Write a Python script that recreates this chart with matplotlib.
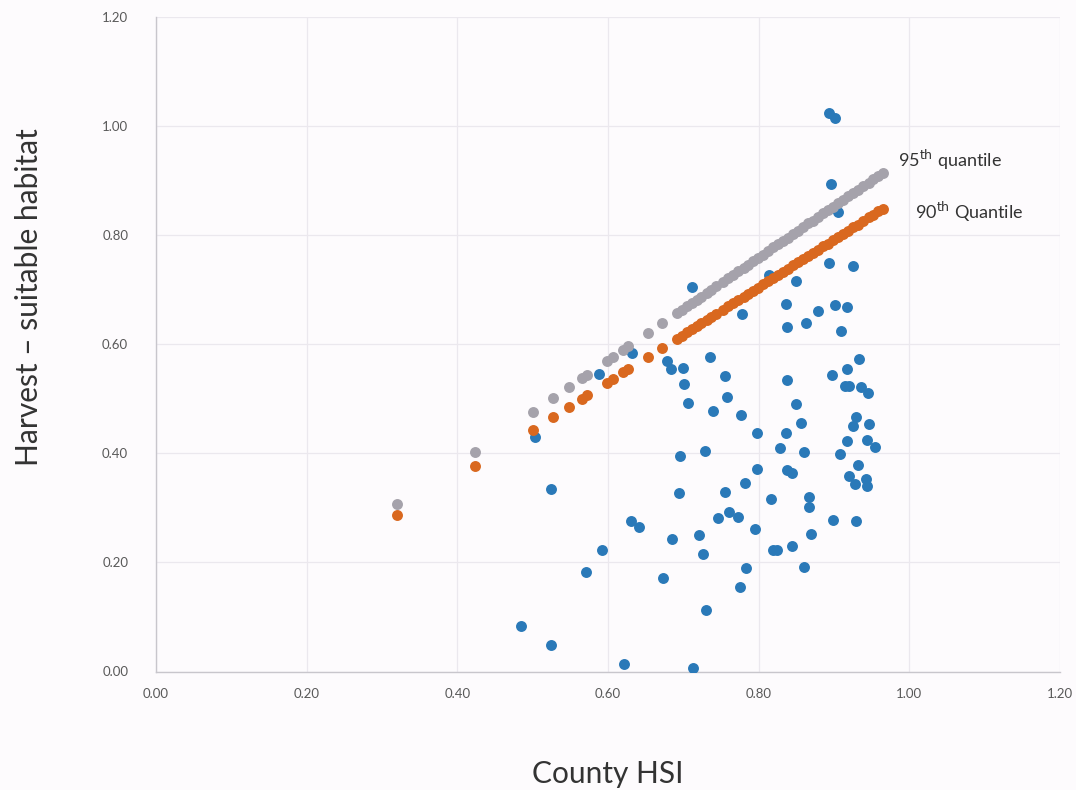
import numpy as np
import matplotlib.pyplot as plt

# county HSI vs harvest-suitable habitat, one dot per county
county_hsi = [0.893, 0.901, 0.896, 0.905, 0.711, 0.814, 0.893, 0.925, 0.850, 0.836,
              0.879, 0.901, 0.917, 0.778, 0.838, 0.863, 0.909, 0.933, 0.917, 0.897,
              0.915, 0.920, 0.936, 0.945, 0.838, 0.850, 0.856, 0.836, 0.929, 0.925,
              0.946, 0.917, 0.944, 0.954, 0.828, 0.860, 0.908, 0.932, 0.838, 0.632,
              0.588, 0.678, 0.684, 0.700, 0.735, 0.755, 0.701, 0.758, 0.706, 0.739,
              0.777, 0.798, 0.696, 0.729, 0.798, 0.782, 0.694, 0.755, 0.816, 0.746,
              0.761, 0.773, 0.685, 0.721, 0.795, 0.726, 0.819, 0.824, 0.783, 0.673,
              0.775, 0.730, 0.713, 0.844, 0.920, 0.928, 0.942, 0.944, 0.867, 0.867,
              0.899, 0.929, 0.869, 0.844, 0.860, 0.503, 0.524, 0.631, 0.641, 0.592,
              0.571, 0.484, 0.524, 0.621]
harvest = [1.024, 1.014, 0.893, 0.842, 0.705, 0.727, 0.749, 0.743, 0.716, 0.674,
           0.661, 0.672, 0.668, 0.655, 0.631, 0.639, 0.624, 0.573, 0.555, 0.544,
           0.523, 0.523, 0.522, 0.511, 0.534, 0.490, 0.456, 0.437, 0.467, 0.450,
           0.454, 0.423, 0.424, 0.412, 0.410, 0.402, 0.399, 0.379, 0.370, 0.584,
           0.545, 0.569, 0.555, 0.556, 0.577, 0.542, 0.527, 0.503, 0.492, 0.478,
           0.470, 0.437, 0.395, 0.404, 0.371, 0.346, 0.327, 0.329, 0.316, 0.282,
           0.293, 0.283, 0.243, 0.250, 0.261, 0.216, 0.223, 0.223, 0.190, 0.172,
           0.155, 0.113, 0.007, 0.364, 0.359, 0.344, 0.353, 0.340, 0.320, 0.302,
           0.278, 0.276, 0.252, 0.230, 0.192, 0.430, 0.335, 0.276, 0.265, 0.223,
           0.183, 0.084, 0.049, 0.014]

# quantile regression predictions
q_hsi = [0.320, 0.423, 0.500, 0.527, 0.548, 0.565, 0.572, 0.599, 0.607, 0.620,
         0.627, 0.653, 0.672, 0.692, 0.698, 0.705, 0.711, 0.718, 0.724, 0.731,
         0.737, 0.744, 0.753, 0.760, 0.766, 0.773, 0.780, 0.786, 0.793, 0.799,
         0.806, 0.813, 0.819, 0.826, 0.832, 0.839, 0.846, 0.852, 0.859, 0.866,
         0.872, 0.879, 0.886, 0.892, 0.899, 0.906, 0.912, 0.919, 0.926, 0.932,
         0.939, 0.946, 0.952, 0.959, 0.965]
q95 = [0.306, 0.403, 0.476, 0.501, 0.521, 0.537, 0.544, 0.569, 0.577, 0.589,
       0.596, 0.620, 0.638, 0.657, 0.663, 0.669, 0.675, 0.681, 0.687, 0.694,
       0.699, 0.706, 0.714, 0.721, 0.727, 0.733, 0.740, 0.745, 0.752, 0.758,
       0.764, 0.771, 0.777, 0.783, 0.789, 0.795, 0.802, 0.808, 0.814, 0.821,
       0.826, 0.833, 0.840, 0.845, 0.852, 0.859, 0.864, 0.871, 0.877, 0.883,
       0.890, 0.896, 0.902, 0.908, 0.914]
q90 = [0.286, 0.376, 0.443, 0.467, 0.485, 0.500, 0.506, 0.529, 0.536, 0.548,
       0.554, 0.576, 0.593, 0.610, 0.615, 0.622, 0.627, 0.633, 0.638, 0.644,
       0.649, 0.655, 0.663, 0.669, 0.675, 0.681, 0.687, 0.692, 0.698, 0.703,
       0.710, 0.716, 0.721, 0.727, 0.732, 0.738, 0.744, 0.750, 0.756, 0.762,
       0.767, 0.773, 0.779, 0.784, 0.791, 0.797, 0.802, 0.808, 0.814, 0.819,
       0.825, 0.832, 0.837, 0.843, 0.848]

ticks = [0.0, 0.2, 0.4, 0.6, 0.8, 1.0, 1.2]

plt.rcParams['font.family'] = ['Lato', 'DejaVu Sans']

fig = plt.figure(figsize=(10.76, 7.90), dpi=100)
fig.patch.set_facecolor('#fdfbfd')
ax = fig.add_axes([0.145, 0.150, 0.840, 0.829])
ax.set_facecolor('#fdfbfd')

ax.scatter(county_hsi, harvest, s=62, color='#2a79b8', zorder=3, linewidths=0)
ax.scatter(q_hsi, q95, s=62, color='#a5a2ab', zorder=4, linewidths=0)
ax.scatter(q_hsi, q90, s=62, color='#d9681f', zorder=4, linewidths=0)

ax.text(0.985, 0.937, '95$^{\\mathrm{th}}$ quantile', fontsize=13, color='#333333',
        va='center', ha='left')
ax.text(1.008, 0.842, '90$^{\\mathrm{th}}$ Quantile', fontsize=13, color='#333333',
        va='center', ha='left')

ax.set_xlim(0, 1.2)
ax.set_ylim(0, 1.2)
ax.set_xticks(ticks)
ax.set_yticks(ticks)
ax.set_xticklabels(['%.2f' % t for t in ticks])
ax.set_yticklabels(['%.2f' % t for t in ticks])
ax.tick_params(length=0, labelsize=9.5, labelcolor='#595959')
ax.tick_params(axis='x', pad=12)
ax.tick_params(axis='y', pad=20)
ax.grid(True, color='#ebe8ee', linewidth=0.9)
ax.set_axisbelow(True)

for side in ['top', 'right']:
    ax.spines[side].set_visible(False)
for side in ['left', 'bottom']:
    ax.spines[side].set_color('#c8c6cc')
    ax.spines[side].set_linewidth(1.0)

ax.set_xlabel('County HSI', fontsize=21.5, color='#333333')
ax.set_ylabel('Harvest \u2013 suitable habitat', fontsize=21.5, color='#333333')
ax.xaxis.set_label_coords(0.5, -0.135)
ax.yaxis.set_label_coords(-0.125, 0.571)

fig.savefig('out.png', dpi=100, facecolor=fig.get_facecolor())
